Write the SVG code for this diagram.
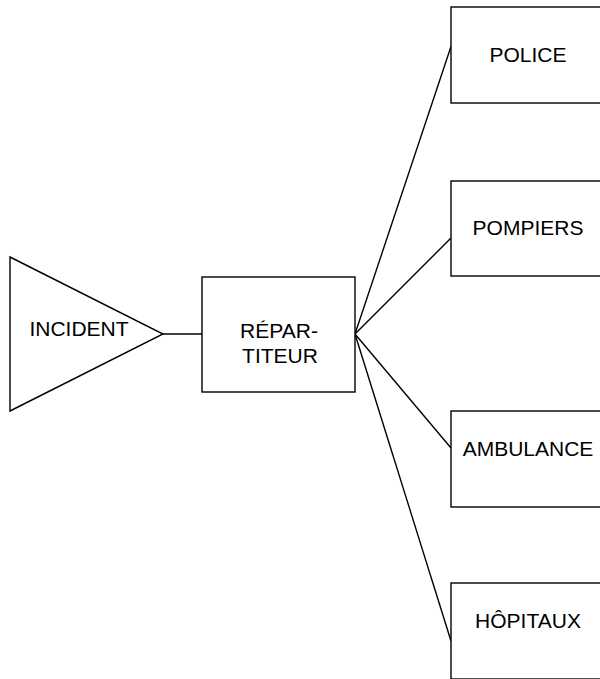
<svg xmlns="http://www.w3.org/2000/svg" width="600" height="679" viewBox="0 0 600 679">
<style>
.s{fill:#fff;stroke:#000;stroke-width:1.4}
.c{fill:none;stroke:#000;stroke-width:1.4}
text{font-family:"Liberation Sans",Arial,sans-serif;font-size:21px;fill:#000;text-anchor:middle}
</style>
<rect width="600" height="679" fill="#fff"/>
<g id="connectors">
<line class="c" x1="163" y1="334" x2="202" y2="334"/>
<line class="c" x1="355" y1="334" x2="451" y2="46.5"/>
<line class="c" x1="355" y1="334" x2="451" y2="238"/>
<line class="c" x1="355" y1="334" x2="451" y2="448"/>
<line class="c" x1="355" y1="334" x2="451" y2="641"/>
</g>
<g id="incident">
<polygon class="s" points="10,257 163,334 10,411"/>
<text x="79" y="336">INCIDENT</text>
</g>
<g id="repartiteur">
<rect class="s" x="202" y="277" width="153" height="115"/>
<text x="279" y="338">RÉPAR-</text>
<text x="280" y="363">TITEUR</text>
</g>
<g id="police">
<rect class="s" x="451" y="7" width="160" height="96"/>
<text x="528" y="62">POLICE</text>
</g>
<g id="pompiers">
<rect class="s" x="451" y="181" width="160" height="95"/>
<text x="528" y="235">POMPIERS</text>
</g>
<g id="ambulance">
<rect class="s" x="451" y="411" width="160" height="96"/>
<text x="528" y="456">AMBULANCE</text>
</g>
<g id="hopitaux">
<rect class="s" x="451" y="583" width="160" height="96"/>
<text x="528" y="628">HÔPITAUX</text>
</g>
</svg>
